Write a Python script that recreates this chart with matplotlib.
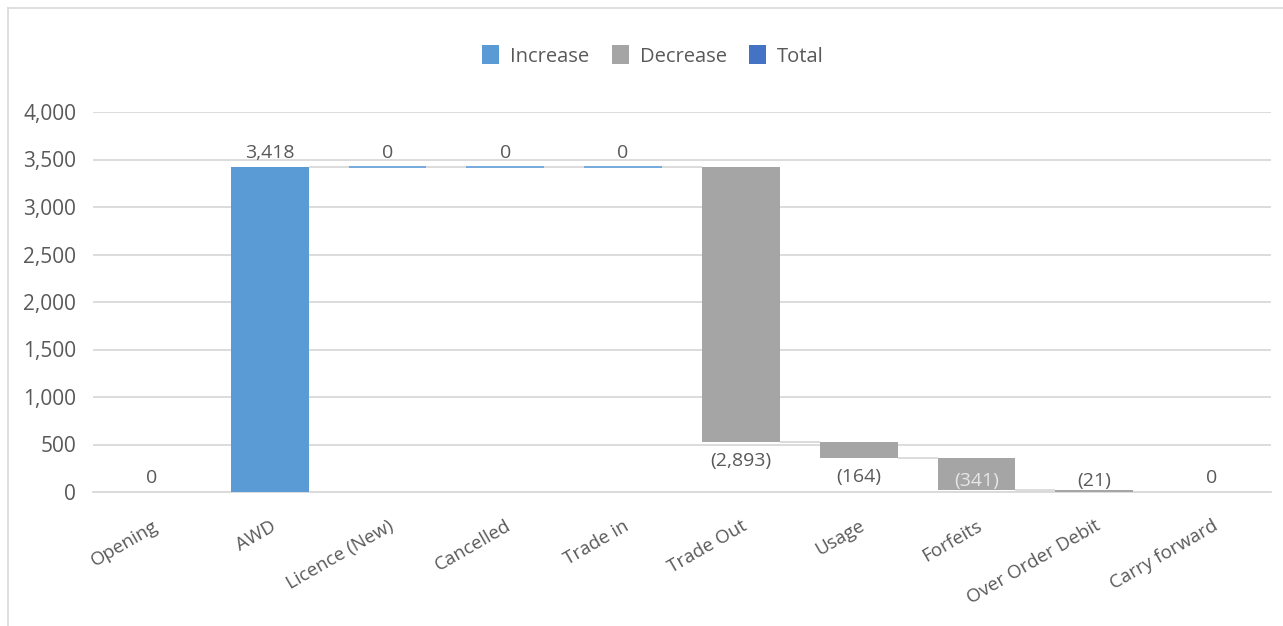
import matplotlib
matplotlib.use("Agg")
import matplotlib.pyplot as plt
from matplotlib.lines import Line2D
from matplotlib.patches import Patch

categories = ["Opening", "AWD", "Licence (New)", "Cancelled", "Trade in",
              "Trade Out", "Usage", "Forfeits", "Over Order Debit", "Carry forward"]
changes = [0, 3418, 0, 0, 0, -2893, -164, -341, -21, 0]
kinds = ["total", "inc", "inc", "inc", "inc", "dec", "dec", "dec", "dec", "total"]
y_ticks = [0, 500, 1000, 1500, 2000, 2500, 3000, 3500, 4000]

colors = {"inc": "#5B9BD5", "dec": "#A5A5A5", "total": "#4472C4"}
text_col = "#595959"
grid_col = "#D9D9D9"

plt.rcParams["font.family"] = ["Open Sans", "DejaVu Sans"]

fig = plt.figure(figsize=(12.83, 6.26), dpi=100)
W, H = 1283, 626
ax = fig.add_axes([93 / W, 1 - 492 / H, (1271 - 93) / W, (492 - 112) / H])

# running totals for the waterfall
bottoms, tops = [], []
running = 0
for ch, kind in zip(changes, kinds):
    if kind == "total":
        b, t = 0, running
    else:
        b, t = running, running + ch
        running = t
    bottoms.append(min(b, t))
    tops.append(max(b, t))

x = list(range(len(categories)))
bw = 0.66
for i, kind in enumerate(kinds):
    h = tops[i] - bottoms[i]
    flat_step = (h == 0 and kind != "total")
    ax.bar(x[i], h, bottom=bottoms[i], width=bw, color=colors[kind],
           edgecolor=colors[kind] if flat_step else "none",
           linewidth=1.2 if flat_step else 0, zorder=3)

# connectors between consecutive bars
level = 0
levels = []
for ch, kind in zip(changes, kinds):
    if kind != "total":
        level += ch
    levels.append(level)
for i in range(len(x) - 1):
    ax.plot([x[i] + bw / 2, x[i + 1] - bw / 2], [levels[i], levels[i]],
            color=grid_col, lw=1.3, zorder=2, solid_capstyle="butt")

# value labels
def fmt(v):
    s = f"{abs(v):,}"
    return f"({s})" if v < 0 else s

for i, (ch, kind) in enumerate(zip(changes, kinds)):
    if kind == "dec":
        y = max(bottoms[i] - 200, 115)
        col = "#E6E6E6" if bottoms[i] < y < tops[i] else text_col
    else:
        y = tops[i] + 150
        col = text_col
    ax.text(x[i], y, fmt(ch), ha="center", va="center", fontsize=14,
            color=col, zorder=4)

ax.set_xlim(-0.5, len(categories) - 0.5)
ax.set_ylim(0, 4000)
ax.set_yticks(y_ticks)
ax.set_yticklabels([f"{v:,}" for v in y_ticks])
ax.yaxis.grid(True, color=grid_col, lw=1.3, zorder=0)
ax.set_axisbelow(True)
for s in ["top", "right", "left"]:
    ax.spines[s].set_visible(False)
ax.spines["bottom"].set_color(grid_col)
ax.spines["bottom"].set_linewidth(1.3)
ax.tick_params(axis="y", length=0, labelsize=15, colors=text_col, pad=12)
ax.tick_params(axis="x", length=0, labelsize=13.5, colors=text_col, pad=18)
ax.set_xticks(x)
ax.set_xticklabels(categories, rotation=30, ha="right", va="top",
                   rotation_mode="anchor")

handles = [Patch(facecolor=colors["inc"], label="Increase"),
           Patch(facecolor=colors["dec"], label="Decrease"),
           Patch(facecolor=colors["total"], label="Total")]
leg = fig.legend(handles=handles, loc="center", bbox_to_anchor=(653 / W, 1 - 56 / H),
                 ncol=3, frameon=False, fontsize=14.5, handlelength=0.85,
                 handleheight=1.05, handletextpad=0.55, columnspacing=1.1)
for t in leg.get_texts():
    t.set_color(text_col)

# chart frame
fig.add_artist(Line2D([8 / W, 8 / W], [0, 1 - 8 / H], transform=fig.transFigure,
                      color=grid_col, lw=1.2))
fig.add_artist(Line2D([8 / W, 1], [1 - 8 / H, 1 - 8 / H], transform=fig.transFigure,
                      color=grid_col, lw=1.2))

fig.savefig("out.png", dpi=100)
